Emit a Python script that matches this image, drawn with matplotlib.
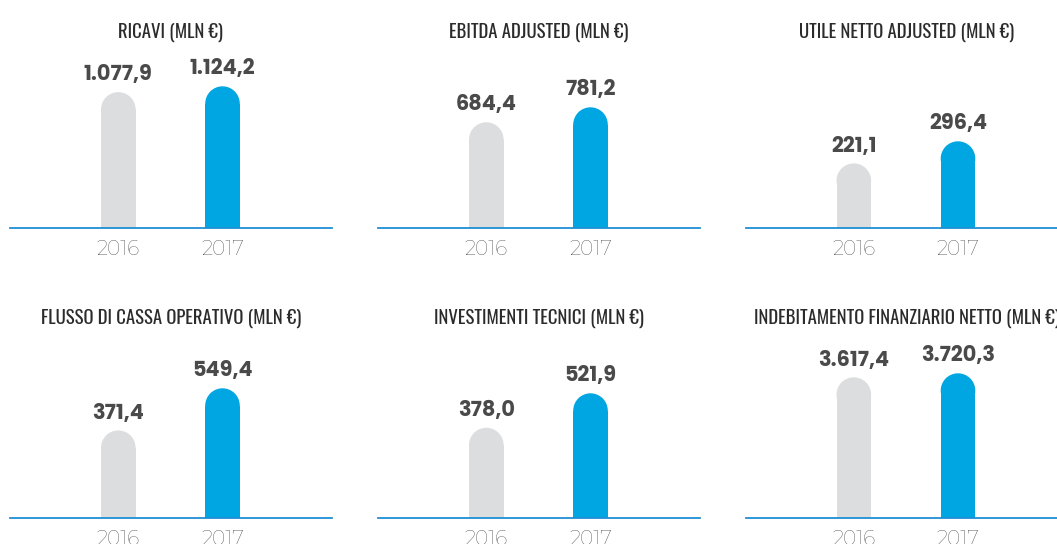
import matplotlib
matplotlib.use("Agg")
import matplotlib.pyplot as plt
from matplotlib.patches import Ellipse

# dati (mln euro)
titoli = ["RICAVI (MLN €)", "EBITDA ADJUSTED (MLN €)", "UTILE NETTO ADJUSTED (MLN €)",
          "FLUSSO DI CASSA OPERATIVO (MLN €)", "INVESTIMENTI TECNICI (MLN €)",
          "INDEBITAMENTO FINANZIARIO NETTO (MLN €)"]
anni = ["2016", "2017"]
val_2016 = [1077.9, 684.4, 221.1, 371.4, 378.0, 3617.4]
val_2017 = [1124.2, 781.2, 296.4, 549.4, 521.9, 3720.3]
etichette_2016 = ["1.077,9", "684,4", "221,1", "371,4", "378,0", "3.617,4"]
etichette_2017 = ["1.124,2", "781,2", "296,4", "549,4", "521,9", "3.720,3"]

# layout in pixel
W, H = 1057, 544
col_left = [10, 378, 745.5]
row_base = [228.3, 518.3]
tit_off = [191, 194.5]
ax_w, ax_h = 322, 168
top_px = [142, 121, 87, 130, 125, 145]   # altezza in px della barra piu alta
bar_w = 0.332
r_px = 17.3

GRIGIO = "#dcdddf"
BLU = "#00a6e2"
LINEA = "#1e8fd5"
TESTO = "#4a4a4a"

F_VAL = ["Poppins", "Roboto", "DejaVu Sans"]
F_ANNO = ["Montserrat", "Roboto", "DejaVu Sans"]
F_TIT = ["Oswald", "Roboto Condensed", "DejaVu Sans"]

fig = plt.figure(figsize=(W / 100, H / 100), dpi=100)

for i in range(6):
    c, r = i % 3, i // 3
    x0 = col_left[c] / W
    y0 = (H - row_base[r]) / H
    ax = fig.add_axes([x0, y0, ax_w / W, ax_h / H])
    vals = [val_2016[i], val_2017[i]]
    ymax = max(vals) * ax_h / top_px[i]
    ax.set_xlim(-108.3 / 104.2, (ax_w - 108.3) / 104.2)
    ax.set_ylim(0, ymax)
    rd = r_px * ymax / ax_h
    for x, v, col, lab in zip([0, 1], vals, [GRIGIO, BLU],
                              [etichette_2016[i], etichette_2017[i]]):
        ax.bar(x, v - rd, width=bar_w, color=col, linewidth=0)
        ax.add_patch(Ellipse((x, v - rd), bar_w, 2 * rd, color=col, linewidth=0))
        ax.annotate(lab, (x, v), xytext=(0, 8.5), textcoords="offset points",
                    ha="center", va="baseline", fontsize=15, fontweight="bold",
                    color=TESTO, family=F_VAL, annotation_clip=False)
    for x, a in zip([0, 1], anni):
        ax.annotate(a, (x, 0), xytext=(0, -19.5), textcoords="offset points",
                    ha="center", va="baseline", fontsize=14.5,
                    color="#3c3c3c", family=F_ANNO, annotation_clip=False)
    for s in ["top", "left", "right"]:
        ax.spines[s].set_visible(False)
    ax.spines["bottom"].set_color(LINEA)
    ax.spines["bottom"].set_linewidth(1.3)
    ax.set_xticks([])
    ax.set_yticks([])
    ax.patch.set_alpha(0)
    # titolo
    fig.text((col_left[c] + ax_w / 2) / W, (H - (row_base[r] - tit_off[r])) / H, titoli[i],
             ha="center", va="baseline", fontsize=13.5, color="#2b2b2b",
             family=F_TIT)

fig.savefig("out.png", dpi=100)
